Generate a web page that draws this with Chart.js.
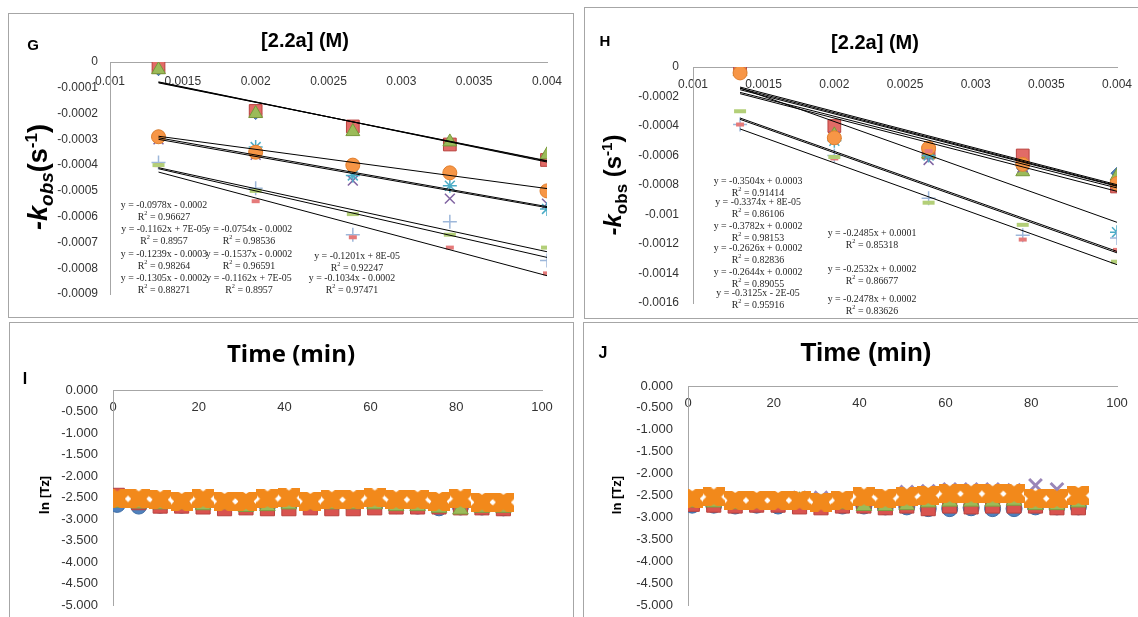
<!DOCTYPE html>
<html>
<head>
<meta charset="utf-8">
<script src="https://cdn.jsdelivr.net/npm/chart.js@4.4.0/dist/chart.umd.min.js"></script>
<style>
  body{margin:0;width:1138px;height:617px;background:#fff;position:relative;overflow:hidden;font-family:"Liberation Sans",Arial,sans-serif;}
  .box{position:absolute;border:1px solid #a6a6a6;box-sizing:border-box;}
  canvas{position:absolute;}
  .t{position:absolute;white-space:nowrap;color:#000;transform:translate(-50%,-50%);z-index:5;line-height:1;}
  .rot{transform:translate(-50%,-50%) rotate(-90deg);}
  .letter{font-weight:bold;font-size:15px;}
  .ktitle{font-weight:bold;font-size:20px;}
  .ttitle{font-weight:bold;}
  .eq{position:absolute;white-space:nowrap;transform:translateX(-50%) scaleX(0.9);text-align:center;font-family:"Liberation Serif",serif;font-size:11px;color:#262626;z-index:5;}
  sub,sup{line-height:0;}
</style>
</head>
<body>
<div class="box" style="left:8px;top:13px;width:566px;height:305px"></div>
<div class="box" style="left:584px;top:7px;width:560px;height:312px"></div>
<div class="box" style="left:9px;top:322px;width:565px;height:300px"></div>
<div class="box" style="left:583px;top:322px;width:560px;height:300px"></div>

<canvas id="chG" width="565" height="304" style="left:8px;top:13px"></canvas>
<canvas id="chH" width="554" height="311" style="left:584px;top:7px"></canvas>
<canvas id="chI" width="564" height="295" style="left:9px;top:322px"></canvas>
<canvas id="chJ" width="555" height="295" style="left:583px;top:322px"></canvas>

<div class="t letter" style="left:33px;top:44px">G</div>
<div class="t letter" style="left:605px;top:40px">H</div>
<div class="t letter" style="left:25px;top:379px;font-size:16px">I</div>
<div class="t letter" style="left:603px;top:353px;font-size:16px">J</div>

<div class="t ktitle" style="left:305px;top:40px">[2.2a] (M)</div>
<div class="t ktitle" style="left:875px;top:42px">[2.2a] (M)</div>
<div class="t ttitle" style="left:291px;top:353px;font-family:'Open Sans';font-size:24px">Time (min)</div>
<div class="t ttitle" style="left:866px;top:352px;font-size:26px">Time (min)</div>

<div class="t rot" style="left:38px;top:177px;font-weight:bold;font-size:27px"><i>-k</i><sub style="font-size:19px"><i>obs</i></sub>(s<sup style="font-size:17px">-1</sup>)</div>
<div class="t rot" style="left:613px;top:185px;font-weight:bold;font-size:24px"><i>-k</i><sub style="font-size:17px">obs</sub> (s<sup style="font-size:15px">-1</sup>)</div>
<div class="t rot" style="left:44px;top:495px;font-weight:bold;font-size:13px;font-family:'Open Sans'">ln [Tz]</div>
<div class="t rot" style="left:616px;top:495px;font-weight:bold;font-size:13px">ln [Tz]</div>

<script>
// ---- panel G / H : -kobs vs [2.2a] ----
const KX = [0.001333, 0.002, 0.002667, 0.003333, 0.004];

const G_DIAMOND  = [-0.00003, -0.00020, -0.00026, -0.00032, -0.00037];
const G_SQUARE   = [-0.00002, -0.00019, -0.00025, -0.00032, -0.00038];
const G_TRIANGLE = [-0.00003, -0.00020, -0.00027, -0.00031, -0.00036];
const G_XMARK    = [-0.00030, -0.00036, -0.00046, -0.00053, -0.00055];
const G_STAR     = [-0.00029, -0.00033, -0.00044, -0.00048, -0.00057];
const G_CIRCLE   = [-0.00029, -0.00035, -0.00040, -0.00043, -0.00050];
const G_PLUS     = [-0.00039, -0.00049, -0.00067, -0.00062, -0.00077];
const G_RDASH    = [-0.00040, -0.00054, -0.00068, -0.00072, -0.00082];
const G_GDASH    = [-0.00040, -0.00050, -0.00059, -0.00067, -0.00072];
const G_FIT_START = [-0.000081, -0.000079, -0.000077, -0.000288, -0.000294, -0.000300, -0.000410, -0.000414, -0.000427];
const G_FIT_END   = [-0.000383, -0.000385, -0.000388, -0.000491, -0.000561, -0.000565, -0.000736, -0.000758, -0.000829];

const H_DIAMOND  = [-0.00002, -0.00044, -0.00059, -0.00069, -0.00072];
const H_SQUARE   = [-0.00001, -0.00040, -0.00058, -0.00060, -0.00081];
const H_TRIANGLE = [-0.00003, -0.00046, -0.00059, -0.00071, -0.00074];
const H_XMARK    = [-0.00002, -0.00047, -0.00063, -0.00068, -0.00080];
const H_STAR     = [-0.00003, -0.00050, -0.00060, -0.00066, -0.00112];
const H_CIRCLE   = [-0.00004, -0.00048, -0.00055, -0.00066, -0.00079];
const H_PLUS     = [-0.00039, -0.00060, -0.00089, -0.00114, -0.00116];
const H_RDASH    = [-0.00039, -0.00062, -0.00057, -0.00117, -0.00124];
const H_GDASH    = [-0.00030, -0.00061, -0.00092, -0.00107, -0.00132];
const H_FIT_START = [-0.000136, -0.000145, -0.000154, -0.000172, -0.000181, -0.000142, -0.000346, -0.000355, -0.000420];
const H_FIT_END   = [-0.000798, -0.000805, -0.000809, -0.000820, -0.000843, -0.001053, -0.001250, -0.001260, -0.001340];

const KX_TICKS  = [0.001, 0.0015, 0.002, 0.0025, 0.003, 0.0035, 0.004];
const KX_LABELS = ['0.001', '0.0015', '0.002', '0.0025', '0.003', '0.0035', '0.004'];
const G_Y_TICKS  = [0, -0.0001, -0.0002, -0.0003, -0.0004, -0.0005, -0.0006, -0.0007, -0.0008, -0.0009];
const G_Y_LABELS = ['0', '-0.0001', '-0.0002', '-0.0003', '-0.0004', '-0.0005', '-0.0006', '-0.0007', '-0.0008', '-0.0009'];
const H_Y_TICKS  = [0, -0.0002, -0.0004, -0.0006, -0.0008, -0.001, -0.0012, -0.0014, -0.0016];
const H_Y_LABELS = ['0', '-0.0002', '-0.0004', '-0.0006', '-0.0008', '-0.001', '-0.0012', '-0.0014', '-0.0016'];

const G_EQ = ['y = -0.0978x - 0.0002', 'y = -0.1162x + 7E-05', 'y = -0.1239x - 0.0003', 'y = -0.1305x - 0.0002',
              'y = -0.0754x - 0.0002', 'y = -0.1537x - 0.0002', 'y = -0.1162x + 7E-05',
              'y = -0.1201x + 8E-05', 'y = -0.1034x - 0.0002'];
const G_R2 = ['0.96627', '0.8957', '0.98264', '0.88271', '0.98536', '0.96591', '0.8957', '0.92247', '0.97471'];
const H_EQ = ['y = -0.3504x + 0.0003', 'y = -0.3374x + 8E-05', 'y = -0.3782x + 0.0002', 'y = -0.2626x + 0.0002',
              'y = -0.2644x + 0.0002', 'y = -0.3125x - 2E-05', 'y = -0.2485x + 0.0001', 'y = -0.2532x + 0.0002',
              'y = -0.2478x + 0.0002'];
const H_R2 = ['0.91414', '0.86106', '0.98153', '0.82836', '0.89055', '0.95916', '0.85318', '0.86677', '0.83626'];

// ---- panel I / J : ln[Tz] vs time ----
const TIME = [1, 6, 11, 16, 21, 26, 31, 36, 41, 46, 51, 56, 61, 66, 71, 76, 81, 86, 91];
const I_BLUE   = [-2.66, -2.70, -2.68, -2.68, -2.68, -2.70, -2.70, -2.70, -2.68, -2.70, -2.68, -2.68, -2.68, -2.69, -2.70, -2.74, -2.72, -2.72, -2.74];
const I_RED    = [-2.45, -2.62, -2.70, -2.70, -2.72, -2.76, -2.74, -2.76, -2.76, -2.74, -2.76, -2.76, -2.74, -2.72, -2.72, -2.72, -2.74, -2.74, -2.76];
const I_GREEN  = [-2.62, -2.64, -2.66, -2.66, -2.68, -2.66, -2.72, -2.70, -2.66, -2.66, -2.66, -2.66, -2.66, -2.70, -2.70, -2.74, -2.78, -2.74, -2.74];
const I_PURPLE = [-2.55, -2.57, -2.58, -2.60, -2.58, -2.60, -2.60, -2.58, -2.56, -2.60, -2.58, -2.58, -2.56, -2.58, -2.58, -2.60, -2.58, -2.62, -2.62];
const I_ORANGE = [-2.53, -2.53, -2.55, -2.59, -2.53, -2.59, -2.59, -2.53, -2.51, -2.59, -2.55, -2.55, -2.51, -2.55, -2.55, -2.59, -2.53, -2.61, -2.61];
const J_BLUE   = [-2.72, -2.72, -2.74, -2.72, -2.74, -2.72, -2.74, -2.74, -2.74, -2.76, -2.76, -2.80, -2.80, -2.78, -2.80, -2.80, -2.76, -2.76, -2.76];
const J_RED    = [-2.70, -2.72, -2.74, -2.72, -2.72, -2.76, -2.78, -2.74, -2.74, -2.78, -2.74, -2.80, -2.74, -2.76, -2.74, -2.74, -2.74, -2.78, -2.78];
const J_GREEN  = [-2.66, -2.66, -2.70, -2.68, -2.66, -2.62, -2.68, -2.70, -2.74, -2.74, -2.72, -2.66, -2.64, -2.64, -2.64, -2.62, -2.72, -2.72, -2.66];
const J_PURPLE = [-2.60, -2.58, -2.62, -2.62, -2.62, -2.55, -2.55, -2.58, -2.55, -2.52, -2.42, -2.40, -2.36, -2.36, -2.36, -2.38, -2.27, -2.36, -2.45];
const J_ORANGE = [-2.57, -2.53, -2.61, -2.61, -2.61, -2.61, -2.65, -2.61, -2.53, -2.57, -2.53, -2.50, -2.46, -2.46, -2.46, -2.46, -2.57, -2.57, -2.50];

const T_TICKS  = [0, 20, 40, 60, 80, 100];
const T_LABELS = ['0', '20', '40', '60', '80', '100'];
const LN_TICKS  = [0, -0.5, -1, -1.5, -2, -2.5, -3, -3.5, -4, -4.5, -5];
const LN_LABELS = ['0.000', '-0.500', '-1.000', '-1.500', '-2.000', '-2.500', '-3.000', '-3.500', '-4.000', '-4.500', '-5.000'];

// ---- styles / layout (not data) ----
const K_MARKERS = [
  {pointStyle:'rectRot',  radius:6, backgroundColor:'#4F81BD', borderColor:'#3A6AA5', borderWidth:1},
  {pointStyle:'rect',     radius:9, backgroundColor:'#E26B67', borderColor:'#B9423E', borderWidth:1},
  {pointStyle:'triangle', radius:8, backgroundColor:'#9BBB59', borderColor:'#77983A', borderWidth:1},
  {pointStyle:'crossRot', radius:7, backgroundColor:'#8064A2', borderColor:'#8064A2', borderWidth:1.5},
  {pointStyle:'star',     radius:7, backgroundColor:'#4BACC6', borderColor:'#4BACC6', borderWidth:1.5},
  {pointStyle:'circle',   radius:7, backgroundColor:'#F79646', borderColor:'#E07E2C', borderWidth:1},
  {pointStyle:'cross',    radius:7, backgroundColor:'#9DB7DA', borderColor:'#9DB7DA', borderWidth:1.5},
  {pointStyle:'line',     radius:4, backgroundColor:'#E57A7A', borderColor:'#E57A7A', borderWidth:4},
  {pointStyle:'line',     radius:6, backgroundColor:'#B3CF78', borderColor:'#B3CF78', borderWidth:4},
];
const G_EQ_POS = [[164,204],[164,228],[164,253],[164,277],[249,228],[249,253],[249,277],[357,255],[352,277]];
const H_EQ_POS = [[758,181],[758,202],[758,226],[758,248],[758,272],[758,293],[872,233],[872,269],[872,299]];

// notched orange block marker (Excel-like heavy X marker)
function orangeMarker(){
  const c = document.createElement('canvas');
  c.width = 22; c.height = 19;
  const g = c.getContext('2d');
  g.fillStyle = '#F2891B';
  g.fillRect(0, 0, 22, 19);
  g.globalCompositeOperation = 'destination-out';
  g.beginPath();
  g.moveTo(0, 6); g.lineTo(3.5, 9.5); g.lineTo(0, 13); g.closePath();
  g.moveTo(22, 6); g.lineTo(18.5, 9.5); g.lineTo(22, 13); g.closePath();
  g.moveTo(8, 0); g.lineTo(11, 2); g.lineTo(14, 0); g.closePath();
  g.moveTo(8, 19); g.lineTo(11, 17); g.lineTo(14, 19); g.closePath();
  g.fill();
  return c;
}

function pts(xs, ys){ return ys.map((y, i) => ({x: xs[i], y})); }

function kDatasets(series, fitStart, fitEnd){
  const ds = series.map((ys, i) => Object.assign({
    data: pts(KX, ys), showLine:false, order: 20 - i, pointHoverRadius: K_MARKERS[i].radius
  }, K_MARKERS[i]));
  fitStart.forEach((s, i) => ds.push({
    data:[{x:KX[0], y:s}, {x:KX[KX.length-1], y:fitEnd[i]}], showLine:true,
    borderColor:'#000', borderWidth:1, pointRadius:0, order:0
  }));
  return ds;
}

function tDatasets(blue, red, green, purple, orange){
  const om = orangeMarker();
  return [
    {data:pts(TIME, blue),   pointStyle:'circle',   radius:8,  backgroundColor:'#4F81BD', borderColor:'#3E6DA6', borderWidth:1, order:5},
    {data:pts(TIME, red),    pointStyle:'rect',     radius:10, backgroundColor:'#D9534F', borderColor:'#B9423E', borderWidth:1, order:4},
    {data:pts(TIME, green),  pointStyle:'triangle', radius:9,  backgroundColor:'#9BBB59', borderColor:'#7E9E40', borderWidth:1, order:3},
    {data:pts(TIME, purple), pointStyle:'crossRot', radius:9,  backgroundColor:'#8064A2', borderColor:'#9A86B8', borderWidth:3, order:2},
    {data:pts(TIME, orange), pointStyle:om,         radius:10, backgroundColor:'#F2891B', borderColor:'#F2891B', order:1},
  ];
}

function noPad(s){ s.paddingLeft = 0; s.paddingRight = 0; s.paddingTop = 0; s.paddingBottom = 0; }

function makeChart(id, datasets, o){
  const cv = document.getElementById(id);
  const W = cv.width, H = cv.height, XH = 10;
  const lh = o.xFont * 1.2;
  return new Chart(cv, {
    type:'scatter',
    data:{datasets},
    options:{
      responsive:false, animation:false, events:[],
      layout:{padding:{left:0, top:o.area[1] - XH, right:W - o.area[2], bottom:H - o.area[3]}},
      plugins:{legend:{display:false}, tooltip:{enabled:false}},
      scales:{
        x:{
          type:'linear', position:'top', min:o.xTicks[0], max:o.xTicks[o.xTicks.length-1],
          grid:{display:false, drawTicks:false},
          border:{display:true, color:'#a6a6a6', width:1},
          // mirror puts the labels under the axis line, inside the plot (no clipping)
          ticks:{color:'#333', font:{family:'Liberation Sans', size:o.xFont}, mirror:true, padding:o.xOff - lh/2,
                 maxRotation:0, autoSkip:false, callback:(v, i) => o.xLabels[i]},
          afterBuildTicks:s => { s.ticks = o.xTicks.map(v => ({value:v})); },
          afterFit:s => { s.height = XH; noPad(s); }
        },
        y:{
          type:'linear', position:'left', min:o.yTicks[o.yTicks.length-1], max:o.yTicks[0],
          grid:{display:false, drawTicks:false},
          border:{display:true, color:'#a6a6a6', width:1},
          ticks:{color:'#333', font:{family:'Liberation Sans', size:o.yFont}, padding:o.yPad,
                 autoSkip:false, callback:(v, i) => o.yLabels[i]},
          afterBuildTicks:s => { s.ticks = o.yTicks.map(v => ({value:v})); },
          afterFit:s => { s.width = o.area[0]; noPad(s); }
        }
      }
    }
  });
}

function addEquations(eqs, r2s, pos, lineH){
  eqs.forEach((e, i) => {
    const d = document.createElement('div');
    d.className = 'eq';
    d.style.left = pos[i][0] + 'px';
    d.style.top = (pos[i][1] - lineH/2) + 'px';
    d.style.lineHeight = lineH + 'px';
    d.innerHTML = e + '<br>R<sup style="font-size:7px">2</sup> = ' + r2s[i];
    document.body.appendChild(d);
  });
}

makeChart('chG', kDatasets([G_DIAMOND, G_SQUARE, G_TRIANGLE, G_XMARK, G_STAR, G_CIRCLE, G_PLUS, G_RDASH, G_GDASH], G_FIT_START, G_FIT_END),
  {area:[102, 49, 539, 281], xTicks:KX_TICKS, xLabels:KX_LABELS, yTicks:G_Y_TICKS, yLabels:G_Y_LABELS, xFont:12, yFont:12, xOff:20, yPad:12});
makeChart('chH', kDatasets([H_DIAMOND, H_SQUARE, H_TRIANGLE, H_XMARK, H_STAR, H_CIRCLE, H_PLUS, H_RDASH, H_GDASH], H_FIT_START, H_FIT_END),
  {area:[109, 60, 533, 296], xTicks:KX_TICKS, xLabels:KX_LABELS, yTicks:H_Y_TICKS, yLabels:H_Y_LABELS, xFont:12, yFont:12, xOff:18, yPad:14});
makeChart('chI', tDatasets(I_BLUE, I_RED, I_GREEN, I_PURPLE, I_ORANGE),
  {area:[104, 68, 533, 285], xTicks:T_TICKS, xLabels:T_LABELS, yTicks:LN_TICKS, yLabels:LN_LABELS, xFont:13, yFont:13, xOff:17, yPad:15});
makeChart('chJ', tDatasets(J_BLUE, J_RED, J_GREEN, J_PURPLE, J_ORANGE),
  {area:[105, 64, 534, 285], xTicks:T_TICKS, xLabels:T_LABELS, yTicks:LN_TICKS, yLabels:LN_LABELS, xFont:13, yFont:13, xOff:17, yPad:15});

addEquations(G_EQ, G_R2, G_EQ_POS, 12);
addEquations(H_EQ, H_R2, H_EQ_POS, 11.5);
</script>
</body>
</html>
